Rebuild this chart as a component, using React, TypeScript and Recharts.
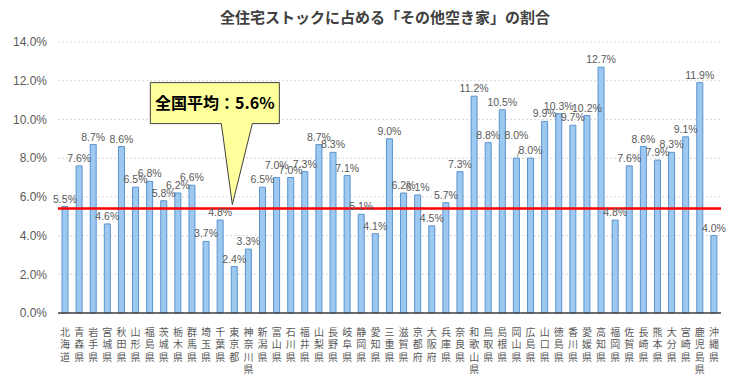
import { BarChart, Bar, XAxis, YAxis, CartesianGrid, ReferenceLine, ReferenceDot, LabelList } from 'recharts';

const TITLE = '全住宅ストックに占める「その他空き家」の割合';

const PREFECTURES = [
    '北海道', '青森県', '岩手県', '宮城県', '秋田県', '山形県', '福島県', '茨城県', '栃木県', '群馬県',
    '埼玉県', '千葉県', '東京都', '神奈川県', '新潟県', '富山県', '石川県', '福井県', '山梨県', '長野県',
    '岐阜県', '静岡県', '愛知県', '三重県', '滋賀県', '京都府', '大阪府', '兵庫県', '奈良県', '和歌山県',
    '鳥取県', '島根県', '岡山県', '広島県', '山口県', '徳島県', '香川県', '愛媛県', '高知県', '福岡県',
    '佐賀県', '長崎県', '熊本県', '大分県', '宮崎県', '鹿児島県', '沖縄県',
];

const RATIOS = [
    5.5, 7.6, 8.7, 4.6, 8.6, 6.5, 6.8, 5.8, 6.2, 6.6,
    3.7, 4.8, 2.4, 3.3, 6.5, 7.0, 7.0, 7.3, 8.7, 8.3,
    7.1, 5.1, 4.1, 9.0, 6.2, 6.1, 4.5, 5.7, 7.3, 11.2,
    8.8, 10.5, 8.0, 8.0, 9.9, 10.3, 9.7, 10.2, 12.7, 4.8,
    7.6, 8.6, 7.9, 8.3, 9.1, 11.9, 4.0,
];

const Y_TICKS = [0, 2, 4, 6, 8, 10, 12, 14];

// 全国平均（赤線の位置と吹き出しの表示値）
const AVG_LINE = 5.4;
const AVG_LABEL = 5.6;
const CALLOUT_AT = '東京都';

// 重なりを避けて持ち上げてあるラベル（px）
const LABEL_RAISE: Record<string, number> = { '富山県': 5, '岡山県': 15 };
const LEADER = ['岡山県'];

const data = PREFECTURES.map((name, i) => ({ name, value: RATIOS[i] }));

const JP_FONT = '"Noto Sans CJK JP", "Noto Sans", sans-serif';
const NUM_FONT = '"Liberation Sans", Arial, sans-serif';

// 縦書きの県名（1文字ずつ積む）
function VerticalTick(props: any) {
    const { x, y, payload } = props;
    const chars = String(payload.value).split('');
    return (
        <g>
            {chars.map((c, i) => (
                <text key={i} x={x} y={y + 15 + i * 12.3} textAnchor="middle" fontSize={10} fill="#595959" fontFamily={JP_FONT}>
                    {c}
                </text>
            ))}
        </g>
    );
}

function BarLabel(props: any) {
    const { x, y, width, value, index } = props;
    const name = PREFECTURES[index];
    const raise = LABEL_RAISE[name] || 0;
    const cx = x + width / 2;
    return (
        <g>
            {LEADER.includes(name) && <line x1={cx + 1} y1={y - 1} x2={cx + 3} y2={y - 8} stroke="#7f7f7f" strokeWidth={0.8} />}
            <text x={cx} y={y - 4 - raise} textAnchor="middle" fontSize={10.5} fill="#595959" fontFamily={NUM_FONT}>
                {`${Number(value).toFixed(1)}%`}
            </text>
        </g>
    );
}

function Callout(props: any) {
    const { cx, cy } = props;
    if (cx == null || cy == null) return null;
    const left = cx - 84, right = cx + 45, top = cy - 122, bottom = cy - 81;
    const d = `M${left},${top} L${right},${top} L${right},${bottom} L${cx + 18},${bottom} L${cx - 2},${cy} L${cx - 13},${bottom} L${left},${bottom} Z`;
    return (
        <g>
            <path d={d} fill="#FFFF9C" stroke="#404040" strokeWidth={1} />
            <text x={(left + right) / 2} y={top + 26} textAnchor="middle" fontSize={16} fontWeight="bold" fill="#000" fontFamily={JP_FONT}>
                全国平均：{AVG_LABEL.toFixed(1)}%
            </text>
        </g>
    );
}

export default function App() {
    return (
        <div style={{ position: 'absolute', left: 0, top: 0, width: 752, height: 376, background: '#fff' }}>
            <div style={{ position: 'absolute', left: 0, top: 6, width: 770, textAlign: 'center', fontFamily: JP_FONT, fontWeight: 'bold', fontSize: 15, color: '#404040' }}>
                {TITLE}
            </div>
            <BarChart width={752} height={376} data={data} margin={{ top: 42, right: 31, left: 0, bottom: 0 }} barSize={6}>
                <CartesianGrid vertical={false} stroke="#d9d9d9" strokeDasharray="2 2" />
                <XAxis
                    dataKey="name"
                    interval={0}
                    height={63}
                    tickLine={false}
                    axisLine={{ stroke: '#404040', strokeWidth: 1.5 }}
                    tick={<VerticalTick />}
                />
                <YAxis
                    width={58}
                    domain={[0, 14]}
                    ticks={Y_TICKS}
                    axisLine={false}
                    tickLine={false}
                    tickSize={0}
                    tickMargin={11}
                    tickFormatter={(v: number) => `${v.toFixed(1)}%`}
                    tick={{ fontSize: 12, fill: '#595959', fontFamily: NUM_FONT }}
                />
                <Bar dataKey="value" fill="#9DC8F0" stroke="#5B93CF" strokeWidth={1} isAnimationActive={false}>
                    <LabelList dataKey="value" content={<BarLabel />} />
                </Bar>
                <ReferenceLine y={AVG_LINE} stroke="#FF0000" strokeWidth={2.5} />
                <ReferenceDot x={CALLOUT_AT} y={AVG_LABEL} r={0} shape={<Callout />} />
            </BarChart>
        </div>
    );
}
